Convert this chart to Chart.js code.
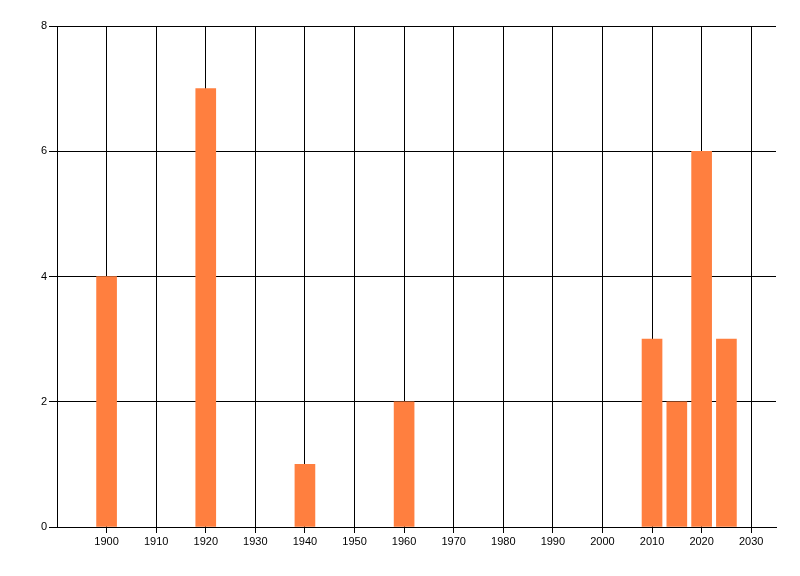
<!DOCTYPE html>
<html>
<head>
<meta charset="utf-8">
<script src="https://cdn.jsdelivr.net/npm/chart.js@4/dist/chart.umd.min.js"></script>
<style>
  html, body { margin: 0; padding: 0; background: #fff; }
  #wrap { width: 800px; height: 576px; }
</style>
</head>
<body>
<div id="wrap"><canvas id="chart" width="800" height="576"></canvas></div>
<script>
// 数据
const years = [1900, 1920, 1940, 1960, 2010, 2015, 2020, 2025];
const counts = [4, 7, 1, 2, 3, 2, 6, 3];
const xTicks = [1900, 1910, 1920, 1930, 1940, 1950, 1960, 1970, 1980, 1990, 2000, 2010, 2020, 2030];
const yTicks = [0, 2, 4, 6, 8];

const BAR_COLOR = '#FF7F3F';
const FONT = { family: '"Liberation Sans", Arial, sans-serif', size: 11 };

const ctx = document.getElementById('chart');
new Chart(ctx, {
  type: 'bar',
  data: {
    datasets: [{
      data: years.map((y, i) => ({ x: y, y: counts[i] })),
      backgroundColor: BAR_COLOR,
      borderWidth: 0,
      barThickness: 20
    }]
  },
  options: {
    responsive: false,
    animation: false,
    layout: { padding: { left: 0, right: 24, top: 26, bottom: 0 } },
    scales: {
      x: {
        type: 'linear',
        min: 1890,
        max: 2035,
        offset: false,
        afterBuildTicks: (axis) => { axis.ticks = xTicks.map(v => ({ value: v })); },
        afterFit: (axis) => { axis.height = 49; },
        grid: { color: '#000', lineWidth: 1, tickLength: 6, offset: false },
        border: { color: '#000', width: 1 },
        ticks: { color: '#000', font: FONT, padding: 2, maxRotation: 0, autoSkip: false,
                 callback: (v) => String(v) }
      },
      y: {
        min: 0,
        max: 8,
        afterBuildTicks: (axis) => { axis.ticks = yTicks.map(v => ({ value: v })); },
        afterFit: (axis) => { axis.width = 57; },
        grid: { color: '#000', lineWidth: 1, tickLength: 8 },
        border: { color: '#000', width: 1 },
        ticks: { color: '#000', font: FONT, padding: 2 }
      }
    },
    plugins: {
      legend: { display: false },
      tooltip: { enabled: false }
    }
  }
});
</script>
</body>
</html>
